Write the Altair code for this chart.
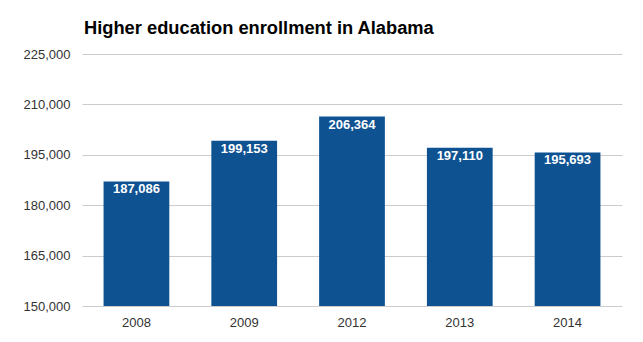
import altair as alt
import pandas as pd

years = ["2008", "2009", "2012", "2013", "2014"]
enrollment = [187086, 199153, 206364, 197110, 195693]
y_ticks = [150000, 165000, 180000, 195000, 210000, 225000]

df = pd.DataFrame({"year": years, "enrollment": enrollment})

base = alt.Chart(df).encode(
    x=alt.X("year:N", sort=years, title=None,
            scale=alt.Scale(paddingInner=0.39, paddingOuter=0.2),
            axis=alt.Axis(labelAngle=0, ticks=False, domain=False, labelPadding=10,
                          labelFontSize=13, labelColor="#333333", labelFont="Liberation Sans")),
    y=alt.Y("enrollment:Q", title=None,
            scale=alt.Scale(domain=[150000, 225000], zero=False, nice=False, clamp=True),
            axis=alt.Axis(values=y_ticks, labelExpr="format(datum.value, ',')",
                          ticks=False, domain=False, labelPadding=12,
                          gridColor="#cccccc", labelFontSize=13, labelColor="#333333",
                          labelFont="Liberation Sans")),
)

bars = base.mark_bar(color="#0e5292", clip=True)
labels = base.mark_text(color="white", fontWeight="bold", fontSize=13, baseline="top",
                        dy=2, font="Liberation Sans").encode(
    text=alt.Text("enrollment:Q", format=",")
)

chart = (bars + labels).properties(
    width=540, height=252,
    title=alt.TitleParams("Higher education enrollment in Alabama", anchor="start",
                          frame="group",
                          fontSize=18.3, font="Liberation Sans", fontWeight="bold",
                          color="#000000", offset=10, dx=2),
    autosize=alt.AutoSizeParams(type="none"),
    padding={"left": 82, "top": 54, "right": 21, "bottom": 36},
).configure_view(stroke=None)

chart.save("out.html", embed_options={"renderer": "svg", "actions": False})
